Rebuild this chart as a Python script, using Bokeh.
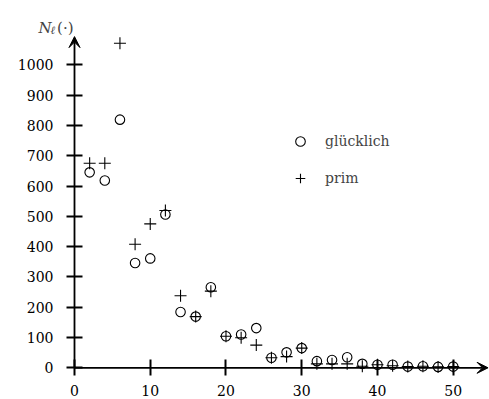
from bokeh.plotting import figure
from bokeh.models import (Range1d, LinearAxis, FixedTicker, Arrow, VeeHead, Label,
                          Legend, LegendItem, ColumnDataSource)
from bokeh.embed import file_html
from bokeh.resources import INLINE

# ---- data ----
ell = [2, 4, 6, 8, 10, 12, 14, 16, 18, 20, 22, 24, 26, 28, 30,
       32, 34, 36, 38, 40, 42, 44, 46, 48, 50]
gluecklich = [645, 618, 819, 346, 361, 506, 184, 169, 266, 104, 110, 131, 33, 51, 65,
              22, 26, 35, 13, 10, 10, 4, 5, 3, 4]
prim = [675, 675, 1071, 408, 475, 519, 238, 169, 253, 104, 99, 75, 33, 37, 65,
        13, 13, 13, 5, 10, 7, 4, 5, 3, 4]
x_ticks = [0, 10, 20, 30, 40, 50]
y_ticks = [0, 100, 200, 300, 400, 500, 600, 700, 800, 900, 1000]

FONT = "DejaVu Serif"

p = figure(width=489, height=399, x_range=Range1d(-9.77, 54.79),
           y_range=Range1d(-104.6, 1212.2), x_axis_type=None, y_axis_type=None,
           min_border=0, toolbar_location=None, output_backend="svg")
p.outline_line_color = None
p.background_fill_color = "white"

def style_axis(ax):
    ax.axis_line_color = None
    ax.major_tick_line_color = "black"
    ax.major_tick_line_width = 2
    ax.major_tick_in = 8
    ax.major_tick_out = 8
    ax.minor_tick_line_color = None
    ax.major_label_text_font = FONT
    ax.major_label_text_font_size = "14px"
    ax.major_label_text_color = "black"

xaxis = LinearAxis(fixed_location=0, ticker=FixedTicker(ticks=x_ticks))
style_axis(xaxis)
xaxis.major_label_standoff = 9
p.add_layout(xaxis, "below")

yaxis = LinearAxis(fixed_location=0, ticker=FixedTicker(ticks=y_ticks))
style_axis(yaxis)
yaxis.major_label_standoff = 13
p.add_layout(yaxis, "left")

# axis arrows
p.add_layout(Arrow(end=VeeHead(size=11, fill_color="black", line_color="black", line_width=1),
                   x_start=0, y_start=0, x_end=54.6, y_end=0,
                   line_color="black", line_width=1.8))
p.add_layout(Arrow(end=VeeHead(size=11, fill_color="black", line_color="black", line_width=1),
                   x_start=0, y_start=0, x_end=0, y_end=1093,
                   line_color="black", line_width=1.8))

src = ColumnDataSource(dict(ell=ell, g=gluecklich, pr=prim))
r_g = p.scatter("ell", "g", source=src, marker="circle", size=9.5,
                fill_color=None, line_color="black", line_width=1.1)
r_p = p.scatter("ell", "pr", source=src, marker="cross", size=12,
                line_color="black", line_width=1.1)

legend = Legend(items=[LegendItem(label="glücklich", renderers=[r_g]),
                       LegendItem(label="prim", renderers=[r_p])],
                location=(288, 209), orientation="vertical",
                glyph_width=24, glyph_height=24, spacing=13, label_standoff=13,
                padding=0, margin=0, border_line_color=None,
                background_fill_alpha=0,
                label_text_font=FONT, label_text_font_size="14px")
p.add_layout(legend, "center")

# y-axis title N_ℓ(·)
p.add_layout(Label(x=-4.75, y=1123, text="N", text_font=FONT, text_font_style="italic",
                   text_font_size="15px", text_baseline="alphabetic"))
p.add_layout(Label(x=-3.17, y=1112, text="ℓ", text_font=FONT, text_font_style="italic",
                   text_font_size="11px", text_baseline="alphabetic"))
p.add_layout(Label(x=-2.3, y=1123, text="(·)", text_font=FONT,
                   text_font_size="15px", text_baseline="alphabetic"))

open("out.html", "w").write(file_html(p, INLINE))
